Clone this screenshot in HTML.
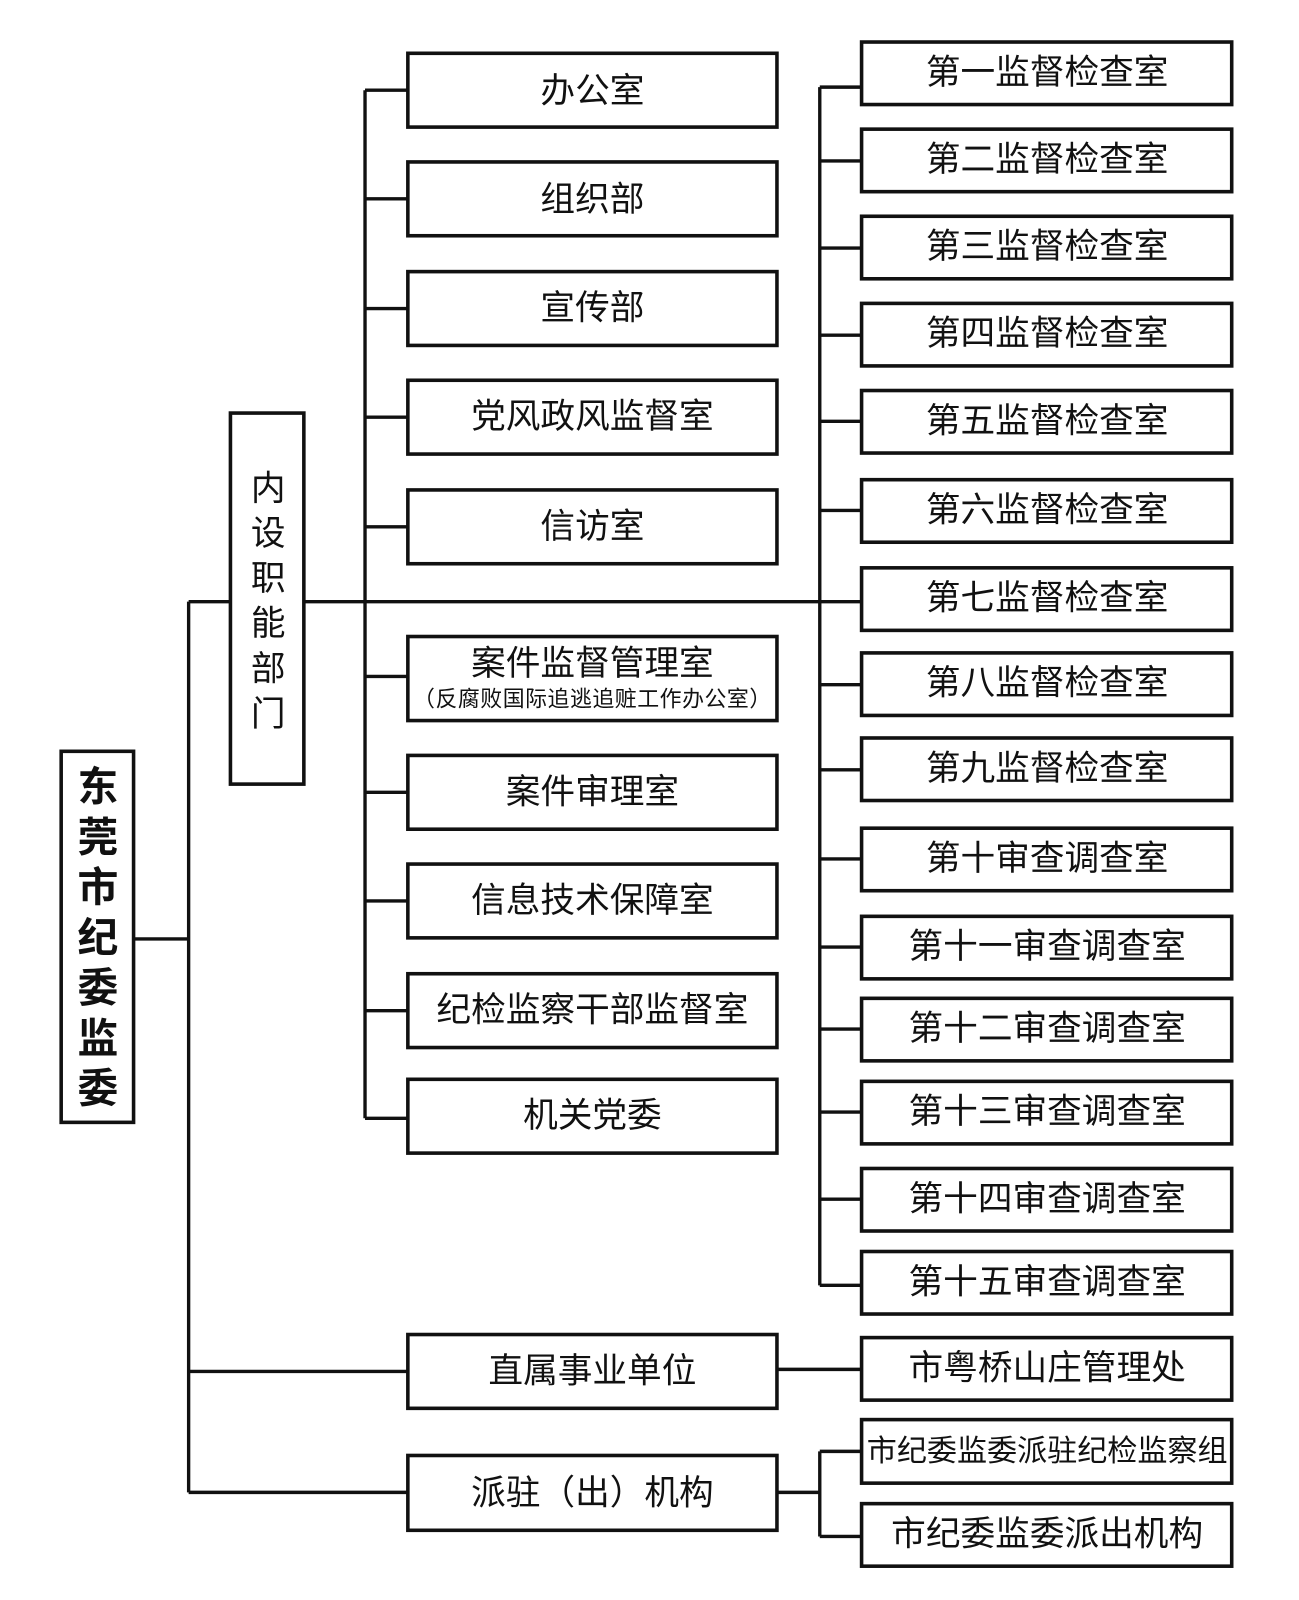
<!DOCTYPE html>
<html><head><meta charset="utf-8"><style>
html,body{margin:0;padding:0;background:#fff;}
svg{display:block}
text{font-family:"Liberation Sans","Noto Sans CJK SC",sans-serif;fill:#111;text-anchor:middle;dominant-baseline:central}
</style></head><body>
<svg width="1299" height="1600" viewBox="0 0 1274 1561" preserveAspectRatio="none" xmlns="http://www.w3.org/2000/svg">
<g stroke="#111" stroke-width="3.3" fill="none">
<line x1="131" y1="916" x2="185" y2="916"/>
<line x1="185" y1="587" x2="185" y2="1456"/>
<line x1="185" y1="587" x2="226" y2="587"/>
<line x1="185" y1="1338" x2="400" y2="1338"/>
<line x1="185" y1="1456" x2="400" y2="1456"/>
<line x1="298" y1="587" x2="845" y2="587"/>
<line x1="358" y1="88" x2="358" y2="1091"/>
<line x1="358" y1="88" x2="400" y2="88"/>
<line x1="358" y1="194" x2="400" y2="194"/>
<line x1="358" y1="301" x2="400" y2="301"/>
<line x1="358" y1="407" x2="400" y2="407"/>
<line x1="358" y1="514" x2="400" y2="514"/>
<line x1="358" y1="660" x2="400" y2="660"/>
<line x1="358" y1="773" x2="400" y2="773"/>
<line x1="358" y1="879" x2="400" y2="879"/>
<line x1="358" y1="986" x2="400" y2="986"/>
<line x1="358" y1="1091" x2="400" y2="1091"/>
<line x1="804" y1="85" x2="804" y2="1254"/>
<line x1="804" y1="85" x2="845" y2="85"/>
<line x1="804" y1="157" x2="845" y2="157"/>
<line x1="804" y1="242" x2="845" y2="242"/>
<line x1="804" y1="327" x2="845" y2="327"/>
<line x1="804" y1="411" x2="845" y2="411"/>
<line x1="804" y1="498" x2="845" y2="498"/>
<line x1="804" y1="668" x2="845" y2="668"/>
<line x1="804" y1="751" x2="845" y2="751"/>
<line x1="804" y1="838" x2="845" y2="838"/>
<line x1="804" y1="924" x2="845" y2="924"/>
<line x1="804" y1="1004" x2="845" y2="1004"/>
<line x1="804" y1="1085" x2="845" y2="1085"/>
<line x1="804" y1="1170" x2="845" y2="1170"/>
<line x1="804" y1="1254" x2="845" y2="1254"/>
<line x1="762" y1="1336" x2="845" y2="1336"/>
<line x1="762" y1="1456" x2="804" y2="1456"/>
<line x1="804" y1="1416" x2="804" y2="1499"/>
<line x1="804" y1="1416" x2="845" y2="1416"/>
<line x1="804" y1="1499" x2="845" y2="1499"/>
</g>
<g stroke="#111" stroke-width="3.5" fill="#fff">
<rect x="60" y="733" width="71" height="362"/>
<rect x="226" y="403" width="72" height="362"/>
<rect x="400" y="52" width="362" height="72"/>
<rect x="400" y="158" width="362" height="72"/>
<rect x="400" y="265" width="362" height="72"/>
<rect x="400" y="371" width="362" height="72"/>
<rect x="400" y="478" width="362" height="72"/>
<rect x="400" y="621" width="362" height="82"/>
<rect x="400" y="737" width="362" height="72"/>
<rect x="400" y="843" width="362" height="72"/>
<rect x="400" y="950" width="362" height="72"/>
<rect x="400" y="1053" width="362" height="72"/>
<rect x="400" y="1302" width="362" height="72"/>
<rect x="400" y="1420" width="362" height="73"/>
<rect x="845" y="41" width="363" height="61"/>
<rect x="845" y="126" width="363" height="61"/>
<rect x="845" y="211" width="363" height="61"/>
<rect x="845" y="296" width="363" height="61"/>
<rect x="845" y="381" width="363" height="61"/>
<rect x="845" y="468" width="363" height="61"/>
<rect x="845" y="554" width="363" height="61"/>
<rect x="845" y="637" width="363" height="61"/>
<rect x="845" y="720" width="363" height="61"/>
<rect x="845" y="808" width="363" height="61"/>
<rect x="845" y="894" width="363" height="61"/>
<rect x="845" y="974" width="363" height="61"/>
<rect x="845" y="1055" width="363" height="61"/>
<rect x="845" y="1140" width="363" height="61"/>
<rect x="845" y="1221" width="363" height="61"/>
<rect x="845" y="1305" width="363" height="61"/>
<rect x="845" y="1385" width="363" height="62"/>
<rect x="845" y="1467" width="363" height="61"/>
</g>
<g font-size="40" font-weight="bold">
<text x="96" y="768">东</text><text x="96" y="817">莞</text><text x="96" y="866">市</text><text x="96" y="915">纪</text><text x="96" y="964">委</text><text x="96" y="1013">监</text><text x="96" y="1062">委</text>
</g>
<g font-size="34">
<text x="263" y="477">内</text><text x="263" y="521">设</text><text x="263" y="565">职</text><text x="263" y="609">能</text><text x="263" y="653">部</text><text x="263" y="697">门</text>
</g>
<g font-size="34">
<text x="581" y="89">办公室</text>
<text x="581" y="195">组织部</text>
<text x="581" y="301">宣传部</text>
<text x="581" y="407">党风政风监督室</text>
<text x="581" y="514">信访室</text>
<text x="581" y="648">案件监督管理室</text>
<text x="581" y="773">案件审理室</text>
<text x="581" y="879">信息技术保障室</text>
<text x="581" y="986">纪检监察干部监督室</text>
<text x="581" y="1089">机关党委</text>
<text x="581" y="1338">直属事业单位</text>
<text x="581" y="1457">派驻（出）机构</text>
<text x="1027" y="71">第一监督检查室</text>
<text x="1027" y="156">第二监督检查室</text>
<text x="1027" y="241">第三监督检查室</text>
<text x="1027" y="326">第四监督检查室</text>
<text x="1027" y="411">第五监督检查室</text>
<text x="1027" y="498">第六监督检查室</text>
<text x="1027" y="584">第七监督检查室</text>
<text x="1027" y="667">第八监督检查室</text>
<text x="1027" y="750">第九监督检查室</text>
<text x="1027" y="838">第十审查调查室</text>
<text x="1027" y="924">第十一审查调查室</text>
<text x="1027" y="1004">第十二审查调查室</text>
<text x="1027" y="1085">第十三审查调查室</text>
<text x="1027" y="1170">第十四审查调查室</text>
<text x="1027" y="1251">第十五审查调查室</text>
<text x="1027" y="1335">市粤桥山庄管理处</text>
<text x="1027" y="1497">市纪委监委派出机构</text>
</g>
<text x="1027" y="1416" font-size="29.5">市纪委监委派驻纪检监察组</text>
<text x="581" y="682" font-size="21.5" font-family="Liberation Serif,Noto Serif CJK SC,serif" letter-spacing="0.5">（反腐败国际追逃追赃工作办公室）</text>
</svg>
</body></html>
